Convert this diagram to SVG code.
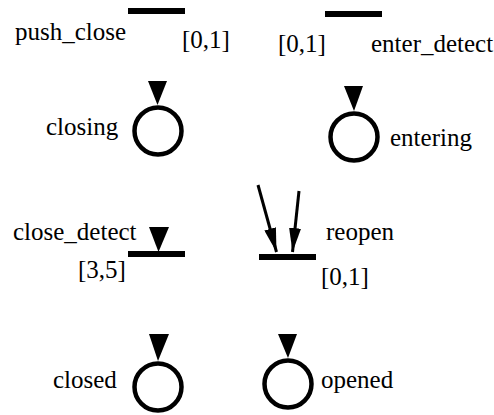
<svg xmlns="http://www.w3.org/2000/svg" width="494" height="415" viewBox="0 0 494 415">
<style>
.t{font-family:'Liberation Serif',Tinos,'Times New Roman',Times,'DejaVu Serif',serif;font-size:25px;fill:#000}
.bar{fill:#000}
.pl{fill:none;stroke:#000;stroke-width:4.5}
.ah{fill:#000}
.ln{stroke:#000;stroke-width:3;fill:none}
</style>
<defs>
<marker id="arr" markerUnits="userSpaceOnUse" viewBox="0 0 24 12" refX="24" refY="6" markerWidth="24" markerHeight="12" orient="auto">
<path d="M0,0 L24,6 L0,12 z" fill="#000"/>
</marker>
</defs>
<rect width="494" height="415" fill="#fff"/>
<g id="push_close">
<rect class="bar" x="128" y="8" width="57" height="6"/>
<text class="t" x="15" y="40">push_close</text>
<text class="t" x="182" y="48">[0,1]</text>
</g>
<g id="enter_detect">
<rect class="bar" x="325" y="11" width="57" height="6"/>
<text class="t" x="278" y="52">[0,1]</text>
<text class="t" x="371" y="52">enter_detect</text>
</g>
<g id="closing">
<circle class="pl" cx="158" cy="131" r="23.5"/>
<text class="t" x="46" y="135">closing</text>
</g>
<g id="entering">
<circle class="pl" cx="354" cy="137" r="23.5"/>
<text class="t" x="390" y="146">entering</text>
</g>
<g id="close_detect">
<rect class="bar" x="128" y="251" width="57" height="6"/>
<text class="t" x="13" y="240">close_detect</text>
<text class="t" x="78" y="278">[3,5]</text>
</g>
<g id="reopen">
<rect class="bar" x="259" y="254" width="57" height="6"/>
<text class="t" x="326" y="240">reopen</text>
<text class="t" x="321" y="285">[0,1]</text>
</g>
<g id="closed">
<circle class="pl" cx="158" cy="387" r="23.5"/>
<text class="t" x="53" y="388">closed</text>
</g>
<g id="opened">
<circle class="pl" cx="288" cy="384" r="23.5"/>
<text class="t" x="321" y="388">opened</text>
</g>
<g id="connectors">
<polygon class="ah" points="148,81 167,81 157.5,105"/>
<polygon class="ah" points="344,86 363,86 354,111"/>
<polygon class="ah" points="149,227 169,227 158.5,252"/>
<polygon class="ah" points="149,334 169,334 158,361"/>
<polygon class="ah" points="278,334 297,334 288,358"/>
<line class="ln" x1="258" y1="185" x2="276.5" y2="252" marker-end="url(#arr)"/>
<line class="ln" x1="299" y1="191" x2="292.5" y2="252" marker-end="url(#arr)"/>
</g>
</svg>
